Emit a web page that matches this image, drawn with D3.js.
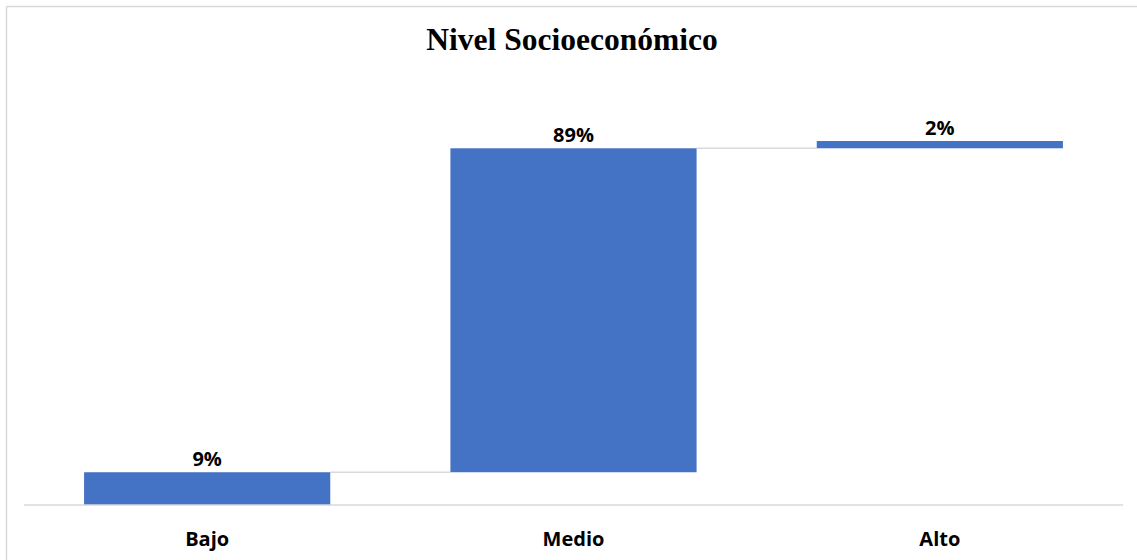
<!DOCTYPE html>
<html>
<head>
<meta charset="utf-8">
<script src="https://cdn.jsdelivr.net/npm/d3@7"></script>
<style>
  html, body { margin: 0; padding: 0; background: #fff; }
  svg { display: block; }
</style>
</head>
<body>
<svg id="chart" width="1137" height="560"></svg>
<script>
// Socioeconomic level distribution, drawn as a waterfall
const categories = ["Bajo", "Medio", "Alto"];
const values = [9, 89, 2];
const valueLabels = ["9%", "89%", "2%"];
const yDomain = [0, 120];

const W = 1137, H = 560;
const plot = { left: 24, right: 1123, top: 68.2, bottom: 505 };

const svg = d3.select("#chart");

// outer chart frame (top and left edges visible)
svg.append("line").attr("x1", 6.5).attr("x2", W).attr("y1", 6.5).attr("y2", 6.5)
  .attr("stroke", "#d9d9d9").attr("stroke-width", 1.5);
svg.append("line").attr("x1", 6.5).attr("x2", 6.5).attr("y1", 6.5).attr("y2", H)
  .attr("stroke", "#d9d9d9").attr("stroke-width", 1.5);

// title
svg.append("text")
  .attr("x", 572).attr("y", 50)
  .attr("text-anchor", "middle")
  .attr("font-family", "'Liberation Serif', 'Times New Roman', serif")
  .attr("font-weight", "bold")
  .attr("font-size", 31.5)
  .attr("fill", "#000")
  .text("Nivel Socioeconómico");

const x = d3.scaleBand().domain(categories).range([plot.left, plot.right]).paddingInner(0.328).paddingOuter(0.164);
const y = d3.scaleLinear().domain(yDomain).range([plot.bottom, plot.top]);

// cumulative starts/ends for each step
let run = 0;
const steps = categories.map((c, i) => {
  const start = run;
  run += values[i];
  return { cat: c, start, end: run, label: valueLabels[i] };
});

// connector lines between consecutive bars
const conn = svg.append("g");
steps.slice(0, -1).forEach((s, i) => {
  const next = steps[i + 1];
  conn.append("line")
    .attr("x1", x(s.cat) + x.bandwidth())
    .attr("x2", x(next.cat))
    .attr("y1", y(s.end)).attr("y2", y(s.end))
    .attr("stroke", "#d9d9d9").attr("stroke-width", 1.5);
});

// bars
svg.append("g").selectAll("rect").data(steps).join("rect")
  .attr("x", d => x(d.cat))
  .attr("width", x.bandwidth())
  .attr("y", d => y(d.end))
  .attr("height", d => y(d.start) - y(d.end))
  .attr("fill", "#4472c4");

// value labels
svg.append("g").selectAll("text").data(steps).join("text")
  .attr("x", d => x(d.cat) + x.bandwidth() / 2)
  .attr("y", d => y(d.end) - 6)
  .attr("text-anchor", "middle")
  .attr("font-family", "'Open Sans', sans-serif")
  .attr("font-weight", "bold")
  .attr("font-size", 20)
  .attr("fill", "#000")
  .text(d => d.label);

// category axis
const xAxis = svg.append("g")
  .attr("transform", `translate(0,${plot.bottom})`)
  .call(d3.axisBottom(x).tickSize(0).tickPadding(27));
xAxis.select(".domain").attr("stroke", "#d9d9d9").attr("stroke-width", 1.5)
  .attr("d", `M${plot.left},0H${plot.right}`);
xAxis.selectAll("text")
  .attr("font-family", "'Open Sans', sans-serif")
  .attr("font-weight", "bold")
  .attr("font-size", 20)
  .attr("fill", "#000");
</script>
</body>
</html>
